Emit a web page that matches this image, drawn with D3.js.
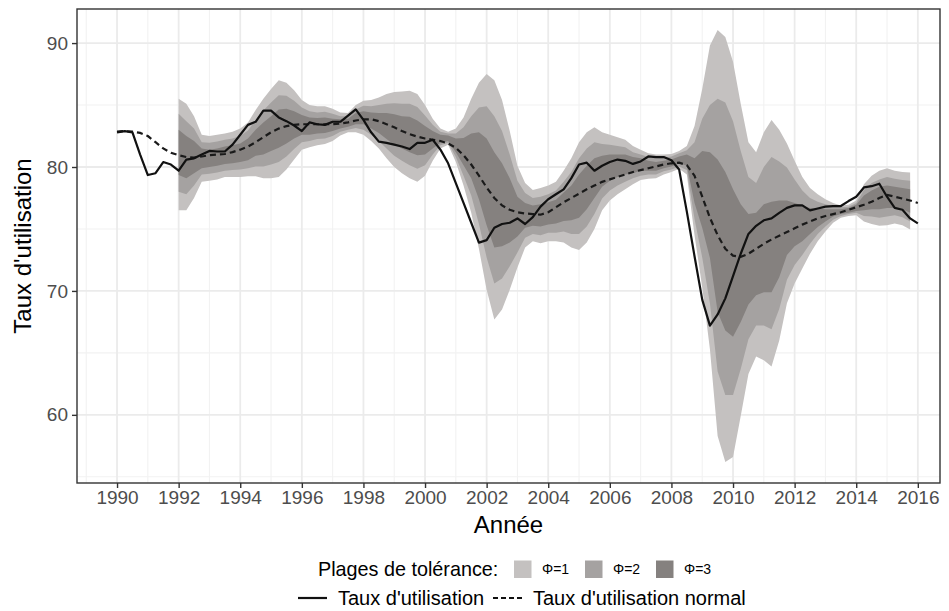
<!DOCTYPE html>
<html>
<head>
<meta charset="utf-8">
<script src="https://cdn.jsdelivr.net/npm/d3@7"></script>
<style>
  body { margin: 0; background: #fff; }
  svg { display: block; font-family: "Liberation Sans", Arial, Helvetica, sans-serif; }
</style>
</head>
<body>
<svg id="chart" width="949" height="611"></svg>
<script>
// Quarterly series, 1990Q1 .. 2016Q1
const utilisation = [
  82.8, 82.9, 82.8, 81.0,
  79.35, 79.5, 80.4, 80.2,
  79.7, 80.6, 80.7, 81.0,
  81.3, 81.25, 81.25, 81.8,
  82.6, 83.4, 83.65, 84.55,
  84.55, 84.0, 83.7, 83.35,
  82.9, 83.6, 83.45, 83.4,
  83.65, 83.65, 84.15, 84.65,
  83.8, 82.8, 82.05, 81.95,
  81.8, 81.65, 81.45, 81.95,
  81.95, 82.2, 81.4, 80.3,
  78.7, 77.1, 75.5, 73.9,
  74.1, 75.1, 75.4, 75.5,
  75.85, 75.4, 75.95, 76.8,
  77.4, 77.8, 78.2, 79.1,
  80.2, 80.35, 79.7, 80.1,
  80.4, 80.6, 80.5, 80.25,
  80.45, 80.85, 80.8, 80.8,
  80.55, 79.8, 76.4, 72.8,
  69.3, 67.2, 68.1, 69.4,
  71.2, 73.0, 74.6, 75.25,
  75.7, 75.85, 76.3, 76.7,
  76.9, 76.9, 76.5, 76.65,
  76.8, 76.85, 76.85, 77.25,
  77.6, 78.35, 78.45, 78.65,
  77.6, 76.7, 76.55, 75.85,
  75.45
];

const utilisationNormale = [
  82.85, 82.9, 82.85, 82.75,
  82.5, 82.0, 81.5, 81.15,
  80.95, 80.8, 80.75, 80.85,
  80.95, 81.0, 81.05, 81.2,
  81.4, 81.65, 82.0, 82.4,
  82.8, 83.1, 83.3, 83.4,
  83.45, 83.45, 83.45, 83.45,
  83.45, 83.5, 83.6, 83.75,
  83.85, 83.85, 83.7, 83.45,
  83.2, 82.9, 82.65, 82.45,
  82.3, 82.2, 82.1, 81.9,
  81.55, 80.95, 80.2, 79.3,
  78.35, 77.5, 76.9, 76.55,
  76.35, 76.25, 76.2, 76.15,
  76.35, 76.75, 77.15, 77.5,
  77.85, 78.2, 78.5, 78.8,
  79.0, 79.2, 79.4, 79.6,
  79.75, 79.9, 80.05, 80.2,
  80.3, 80.35, 80.15, 79.3,
  77.6, 75.9, 74.5, 73.4,
  72.85, 72.75, 73.0, 73.4,
  73.8, 74.15, 74.45, 74.75,
  75.05, 75.35, 75.6, 75.85,
  76.05, 76.2, 76.35, 76.55,
  76.75, 76.95, 77.2, 77.5,
  77.75, 77.6, 77.45, 77.3,
  77.1
];

// Tolerance bands, quarterly 1992Q1 .. 2015Q4
const phi1Upper = [
  85.5, 85.1, 84.1, 82.6,   82.5, 82.6, 82.7, 82.85,
  83.1, 83.6, 84.6, 85.5,   86.3, 87.0, 86.8, 86.2,
  85.4, 85.0, 84.9, 84.9,   84.7, 84.4, 84.35, 85.0,
  85.35, 85.4, 85.6, 85.9,  86.05, 86.1, 86.15, 85.9,
  85.0, 83.9, 83.1, 82.85,  83.1, 84.0, 85.5, 86.8,
  87.5, 87.0, 85.4, 82.9,   80.1, 78.7, 78.15, 78.3,
  78.5, 78.8, 79.7, 80.7,   82.0, 82.8, 83.2, 82.8,
  82.6, 82.4, 82.2, 81.7,   81.4, 81.1, 81.0, 81.0,
  81.05, 81.3, 81.7, 83.3,  86.3, 89.8, 91.05, 90.5,
  88.5, 85.1, 82.0, 81.2,   82.8, 83.8, 83.0, 81.9,
  80.5, 79.2, 78.3, 77.8,   77.4, 77.1, 76.9, 76.95,
  77.3, 78.6, 79.3, 79.7,   79.9, 79.7, 79.6, 79.55
];
const phi1Lower = [
  76.5, 76.5, 77.5, 78.8,   78.9, 79.0, 79.2, 79.2,
  79.2, 79.25, 79.25, 79.1, 79.1, 79.2, 79.8, 80.6,
  81.4, 81.6, 81.75, 81.85, 82.1, 82.55, 82.8, 82.8,
  82.6, 82.1, 81.5, 80.7,   80.0, 79.5, 79.1, 78.8,
  79.3, 80.5, 81.5, 81.8,   80.4, 78.5, 76.3, 73.4,
  70.1, 67.7, 68.5, 70.1,   71.9, 73.5, 74.0, 73.85,
  74.0, 74.0, 73.9, 73.5,   73.3, 73.9, 75.0, 76.5,
  77.3, 77.8, 78.2, 78.6,   78.95, 79.05, 79.1, 79.4,
  79.6, 79.85, 79.4, 74.5,  70.3, 65.3, 58.3, 56.2,
  56.6, 59.9, 63.3, 64.7,   64.4, 63.9, 66.0, 69.0,
  70.6, 71.8, 73.0, 74.0,   74.8, 75.5, 75.9, 76.05,
  76.1, 75.6, 75.4, 75.25,  75.3, 75.45, 75.3, 74.95
];
const phi2Upper = [
  84.3, 83.7, 83.1, 82.0,   81.95, 82.05, 82.2, 82.3,
  82.5, 82.95, 83.8, 84.55, 85.2, 85.8, 85.75, 85.35,
  84.8, 84.5, 84.4, 84.45,  84.3, 84.1, 84.1, 84.65,
  84.95, 84.9, 85.0, 85.1,  85.15, 85.1, 85.1, 84.85,
  84.15, 83.4, 82.85, 82.7, 82.7, 83.2, 84.1, 84.8,
  84.9, 84.1, 82.9, 81.0,   78.9, 77.9, 77.5, 77.6,
  77.8, 78.1, 78.8, 79.6,   80.7, 81.5, 82.0, 81.85,
  81.8, 81.7, 81.6, 81.2,   81.0, 80.8, 80.7, 80.75,
  80.85, 81.1, 81.35, 82.0, 83.9, 85.0, 85.5, 85.2,
  83.7, 81.3, 79.2, 78.7,   80.0, 80.8, 80.45, 79.95,
  79.0, 78.1, 77.5, 77.2,   77.0, 76.85, 76.75, 76.8,
  77.1, 78.15, 78.7, 79.0,  79.2, 79.05, 78.95, 78.9
];
const phi2Lower = [
  78.0, 77.8, 78.5, 79.4,   79.45, 79.55, 79.7, 79.75,
  79.8, 79.9, 80.05, 80.05, 80.2, 80.4, 80.85, 81.45,
  82.0, 82.1, 82.25, 82.3,  82.5, 82.85, 83.0, 83.15,
  83.0, 82.6, 82.1, 81.5,   80.9, 80.5, 80.15, 79.85,
  80.15, 81.0, 81.75, 81.95, 80.8, 79.3, 77.7, 75.4,
  72.7, 70.6, 71.0, 72.0,   73.1, 74.3, 74.6, 74.5,
  74.7, 74.7, 74.8, 74.6,   74.6, 75.2, 76.2, 77.45,
  78.1, 78.5, 78.8, 79.1,   79.3, 79.4, 79.4, 79.65,
  79.8, 80.05, 79.75, 75.8, 72.7, 69.0, 63.5, 61.6,
  61.6, 63.7, 66.1, 67.2,   67.2, 66.9, 68.55, 70.9,
  72.1, 72.9, 73.8, 74.6,   75.2, 75.75, 76.05, 76.2,
  76.3, 76.05, 76.0, 75.9,  76.0, 76.1, 75.95, 75.6
];
const phi3Upper = [
  83.0, 82.5, 82.1, 81.5,   81.4, 81.5, 81.65, 81.75,
  81.9, 82.3, 83.0, 83.6,   84.1, 84.65, 84.7, 84.5,
  84.2, 84.0, 83.95, 84.0,  83.9, 83.85, 83.9, 84.35,
  84.5, 84.4, 84.35, 84.35, 84.25, 84.1, 84.05, 83.75,
  83.3, 82.9, 82.6, 82.55,  82.3, 82.35, 82.7, 82.8,
  82.3, 81.2, 80.3, 79.1,   77.6, 77.1, 76.9, 77.0,
  77.15, 77.35, 77.95, 78.5, 79.4, 80.1, 80.7, 80.9,
  81.0, 81.0, 81.0, 80.8,   80.7, 80.5, 80.4, 80.5,
  80.6, 80.85, 81.0, 80.7,  81.3, 81.2, 80.6, 79.6,
  78.2, 77.0, 76.2, 76.3,   77.0, 77.2, 77.3, 77.3,
  77.1, 76.9, 76.7, 76.65,  76.6, 76.6, 76.6, 76.7,
  76.95, 77.7, 78.1, 78.4,  78.5, 78.4, 78.3, 78.2
];
const phi3Lower = [
  79.35, 79.1, 79.5, 79.9,  80.0, 80.1, 80.25, 80.3,
  80.4, 80.55, 80.9, 81.0,  81.3, 81.55, 81.9, 82.3,
  82.6, 82.6, 82.7, 82.75,  82.9, 83.1, 83.25, 83.45,
  83.45, 83.1, 82.75, 82.25, 81.8, 81.5, 81.2, 80.95,
  81.0, 81.5, 81.95, 82.1,  81.2, 80.15, 79.1, 77.4,
  75.3, 73.5, 73.6, 73.9,   74.4, 75.1, 75.25, 75.2,
  75.35, 75.45, 75.65, 75.7, 75.9, 76.6, 77.5, 78.4,
  78.9, 79.2, 79.4, 79.5,   79.7, 79.7, 79.7, 79.9,
  80.05, 80.3, 80.1, 77.1,  75.1, 72.65, 68.3, 66.8,
  66.3, 67.5, 68.9, 69.65,  69.9, 69.9, 71.1, 72.9,
  73.6, 74.0, 74.6, 75.15,  75.6, 76.0, 76.2, 76.3,
  76.45, 76.5, 76.6, 76.6,  76.7, 76.7, 76.6, 76.3
];

const xTicks = [1990, 1992, 1994, 1996, 1998, 2000, 2002, 2004, 2006, 2008, 2010, 2012, 2014, 2016];
const yTicks = [60, 70, 80, 90];
const bandLabels = ["Φ=1", "Φ=2", "Φ=3"];
const bandColors = ["#c4c1c0", "#a5a2a1", "#85817f"];
const lineLabels = ["Taux d'utilisation", "Taux d'utilisation normal"];

const startYear = 1990, bandStartYear = 1992;
const series = utilisation.map((v, i) => ({ t: startYear + i / 4, a: v, n: utilisationNormale[i] }));
const bands = [
  phi1Upper.map((v, i) => ({ t: bandStartYear + i / 4, hi: v, lo: phi1Lower[i] })),
  phi2Upper.map((v, i) => ({ t: bandStartYear + i / 4, hi: v, lo: phi2Lower[i] })),
  phi3Upper.map((v, i) => ({ t: bandStartYear + i / 4, hi: v, lo: phi3Lower[i] }))
];

const panel = { left: 77, right: 940, top: 9, bottom: 483 };
const x = d3.scaleLinear().domain([1988.7, 2016.72]).range([panel.left, panel.right]);
const y = d3.scaleLinear().domain([54.5, 92.75]).range([panel.bottom, panel.top]);

const svg = d3.select("#chart");
const textCol = "#4d4d4d";

svg.append("defs").append("clipPath").attr("id", "panel-clip")
  .append("rect").attr("x", panel.left).attr("y", panel.top)
  .attr("width", panel.right - panel.left).attr("height", panel.bottom - panel.top);

// grid
const grid = svg.append("g");
const xMinor = d3.range(1989, 2017, 2);
const yMinor = [55, 65, 75, 85];
grid.selectAll(".xmin").data(xMinor).join("line")
  .attr("x1", d => x(d)).attr("x2", d => x(d)).attr("y1", panel.top).attr("y2", panel.bottom)
  .attr("stroke", "#f2f2f2").attr("stroke-width", 1.1);
grid.selectAll(".ymin").data(yMinor).join("line")
  .attr("y1", d => y(d)).attr("y2", d => y(d)).attr("x1", panel.left).attr("x2", panel.right)
  .attr("stroke", "#f2f2f2").attr("stroke-width", 1.1);
grid.selectAll(".xmaj").data(xTicks).join("line")
  .attr("x1", d => x(d)).attr("x2", d => x(d)).attr("y1", panel.top).attr("y2", panel.bottom)
  .attr("stroke", "#ebebeb").attr("stroke-width", 1.8);
grid.selectAll(".ymaj").data(yTicks).join("line")
  .attr("y1", d => y(d)).attr("y2", d => y(d)).attr("x1", panel.left).attr("x2", panel.right)
  .attr("stroke", "#ebebeb").attr("stroke-width", 1.8);

// bands
const plot = svg.append("g").attr("clip-path", "url(#panel-clip)");
const area = d3.area().x(d => x(d.t)).y0(d => y(d.lo)).y1(d => y(d.hi));
bands.forEach((b, i) => {
  plot.append("path").datum(b).attr("d", area).attr("fill", bandColors[i]);
});

// lines
plot.append("path").datum(series)
  .attr("d", d3.line().x(d => x(d.t)).y(d => y(d.n)))
  .attr("fill", "none").attr("stroke", "#1a1a1a").attr("stroke-width", 2.2)
  .attr("stroke-dasharray", "6,4");
plot.append("path").datum(series)
  .attr("d", d3.line().x(d => x(d.t)).y(d => y(d.a)))
  .attr("fill", "none").attr("stroke", "#111").attr("stroke-width", 2.2)
  .attr("stroke-linejoin", "round");

// border
svg.append("rect").attr("x", panel.left).attr("y", panel.top)
  .attr("width", panel.right - panel.left).attr("height", panel.bottom - panel.top)
  .attr("fill", "none").attr("stroke", "#333").attr("stroke-width", 1.4);

// axes
const xAxis = svg.append("g").attr("transform", `translate(0,${panel.bottom})`)
  .call(d3.axisBottom(x).tickValues(xTicks).tickFormat(d3.format("d")).tickSize(5).tickPadding(3));
const yAxis = svg.append("g").attr("transform", `translate(${panel.left},0)`)
  .call(d3.axisLeft(y).tickValues(yTicks).tickSize(5).tickPadding(4));
[xAxis, yAxis].forEach(g => {
  g.select(".domain").remove();
  g.selectAll(".tick line").attr("stroke", "#333").attr("stroke-width", 1.4);
  g.selectAll(".tick text").attr("fill", textCol).attr("font-size", 19)
    .attr("font-family", "'Liberation Sans', Arial, sans-serif");
});

// axis titles
svg.append("text").attr("x", (panel.left + panel.right) / 2).attr("y", 533)
  .attr("text-anchor", "middle").attr("font-size", 24).attr("fill", "#000").text("Année");
svg.append("text").attr("transform", `translate(31,${(panel.top + panel.bottom) / 2}) rotate(-90)`)
  .attr("text-anchor", "middle").attr("font-size", 24).attr("fill", "#000").text("Taux d'utilisation");

// legend, row 1: tolerance bands
const leg1 = svg.append("g");
leg1.append("text").attr("x", 318).attr("y", 576).attr("font-size", 19.8).text("Plages de tolérance:");
const keyX = [514, 585, 656];
bandLabels.forEach((lab, i) => {
  leg1.append("rect").attr("x", keyX[i]).attr("y", 560.5).attr("width", 17.5).attr("height", 17.5).attr("fill", bandColors[i]);
  leg1.append("text").attr("x", keyX[i] + 28).attr("y", 574).attr("font-size", 14).text(lab);
});

// legend, row 2: lines
const leg2 = svg.append("g");
const lineKeyX = [298, 493];
lineLabels.forEach((lab, i) => {
  leg2.append("line").attr("x1", lineKeyX[i]).attr("x2", lineKeyX[i] + 29).attr("y1", 598).attr("y2", 598)
    .attr("stroke", "#111").attr("stroke-width", 2.2)
    .attr("stroke-dasharray", i === 1 ? "5,3" : null);
  leg2.append("text").attr("x", lineKeyX[i] + 40).attr("y", 605).attr("font-size", 20).text(lab);
});
</script>
</body>
</html>
